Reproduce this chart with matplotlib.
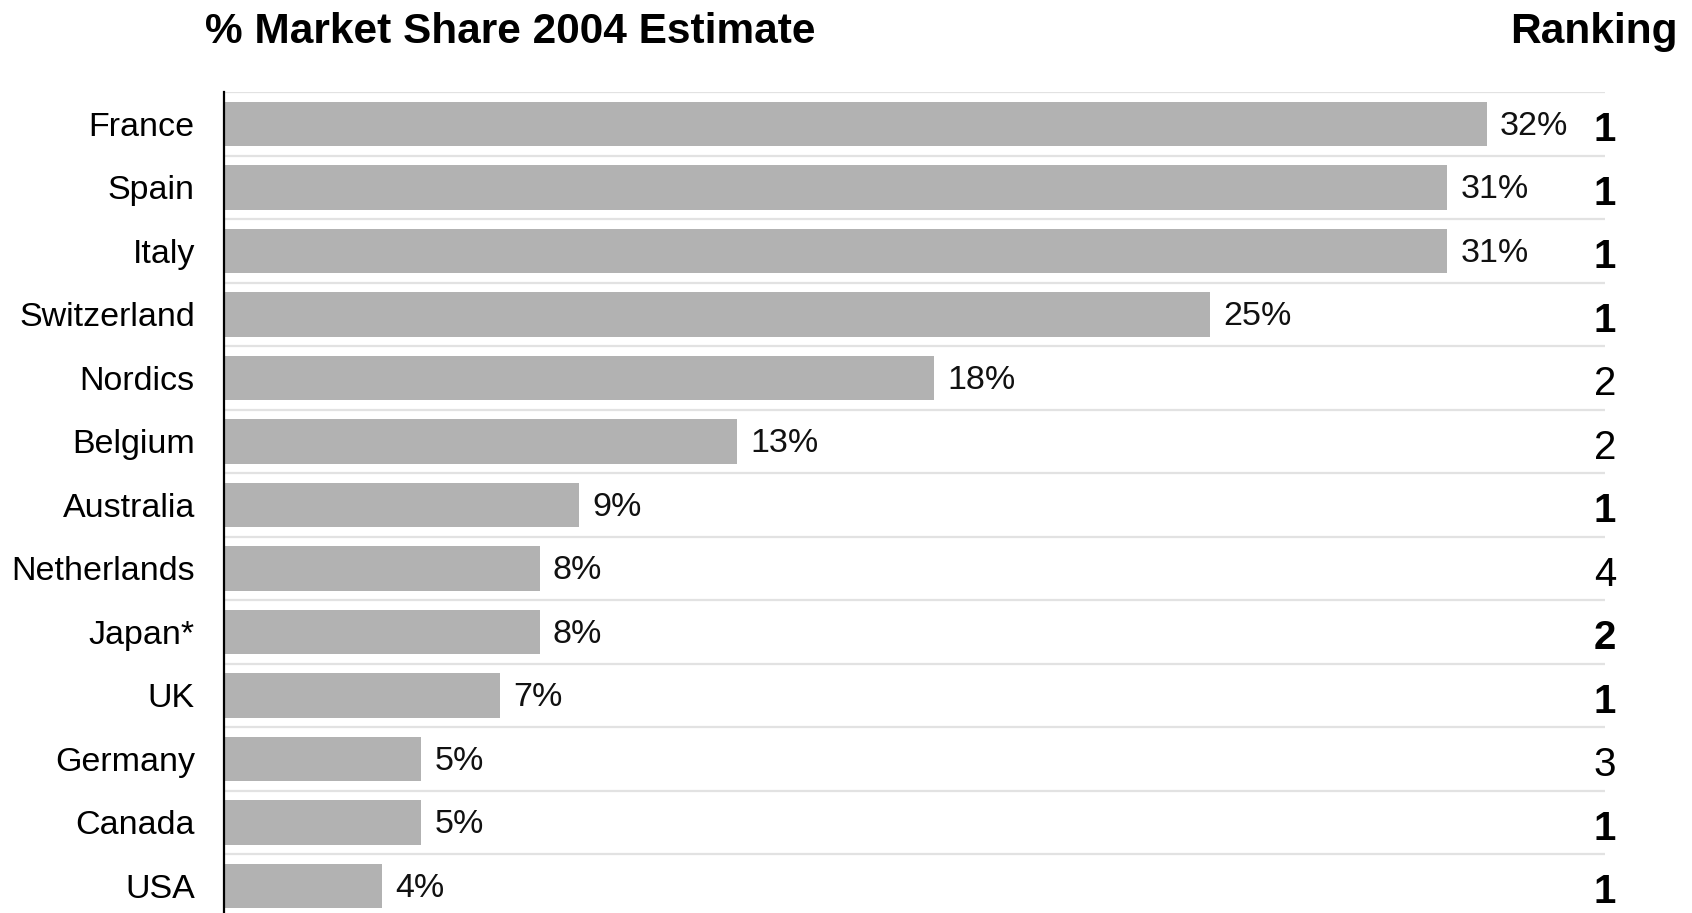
import matplotlib.pyplot as plt

plt.rcParams['font.family'] = ['Liberation Sans', 'DejaVu Sans']

countries = ['France', 'Spain', 'Italy', 'Switzerland', 'Nordics', 'Belgium', 'Australia',
             'Netherlands', 'Japan*', 'UK', 'Germany', 'Canada', 'USA']
shares = [32, 31, 31, 25, 18, 13, 9, 8, 8, 7, 5, 5, 4]
rankings = [1, 1, 1, 1, 2, 2, 1, 4, 2, 1, 3, 1, 1]
ranking_bold = [True, True, True, True, False, False, True, False, True, True, False, True, True]

fig = plt.figure(figsize=(16.92, 9.13), dpi=100)
ax = fig.add_axes([0.1324, -0.005, 0.8162, 0.9042])

y = list(range(len(countries)))
ax.barh(y, shares, height=0.7, color='#b2b2b2', zorder=2)

# light separators above each row
for i in y:
    ax.axhline(i - 0.5, color='#e2e2e2', linewidth=1.6, zorder=1)

ax.set_xlim(0, 35)
ax.set_ylim(len(countries) - 0.5, -0.5)

for i, v in enumerate(shares):
    ax.text(v + 0.33, i + 0.04, f'{v}%', va='center', ha='left', fontsize=24.5, color='#111111')

for i, (r, b) in enumerate(zip(rankings, ranking_bold)):
    ax.text(35, i + 0.1, str(r), va='center', ha='center', fontsize=29,
            fontweight='bold' if b else 'normal', color='black', clip_on=False)

ax.set_yticks(y)
ax.set_yticklabels(countries, fontsize=24.5)
ax.tick_params(axis='y', length=0, pad=21)
ax.set_xticks([])
for side in ['top', 'right', 'bottom']:
    ax.spines[side].set_visible(False)
ax.spines['left'].set_linewidth(1.6)
ax.spines['left'].set_color('black')

fig.text(205 / 1692, 1 - 43 / 913, '% Market Share 2004 Estimate', fontsize=30.5,
         fontweight='bold', ha='left', va='baseline')
fig.text(1678 / 1692, 1 - 43 / 913, 'Ranking', fontsize=30.5,
         fontweight='bold', ha='right', va='baseline')

fig.savefig('out.png', dpi=100)
